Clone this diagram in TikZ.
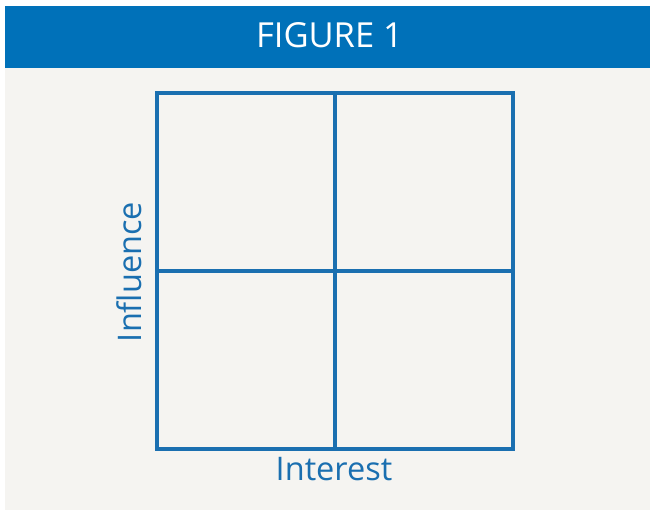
\documentclass[tikz,border=0pt]{standalone}
\usepackage{fontspec}
\setmainfont{Open Sans}
\usepackage{xcolor}
\definecolor{headblue}{RGB}{0,113,185}
\definecolor{gridblue}{RGB}{26,111,176}
\definecolor{paper}{RGB}{245,244,241}
\begin{document}
\begin{tikzpicture}[
    x=1pt, y=-1pt,
    gridline/.style={draw=gridblue, line width=3.6pt},
    axislabel/.style={font=\fontsize{32.5}{34}\selectfont, text=gridblue, inner sep=0pt},
  ]
  \useasboundingbox (0,0) rectangle (653,510);
  % ---- backgrounds ----
  \fill[white] (0,0) rectangle (653,510);
  \fill[paper] (5,68) rectangle (650,510);
  \fill[headblue] (5,6) rectangle (650,68);
  \node[font=\fontsize{34.5}{36}\selectfont, text=white, inner sep=0pt] (title) at (329.5,35) {FIGURE 1};
  % ---- grid ----
  \coordinate (nw) at (157,93);
  \coordinate (se) at (513,449);
  \draw[gridline] (nw) rectangle (se);
  \draw[gridline] (335,93) -- (335,449);
  \draw[gridline] (157,271) -- (513,271);
  % ---- axis labels ----
  \node[axislabel] (interest) at (334,469) {Interest};
  \node[axislabel, rotate=90] (influence) at (129,272) {Influence};
\end{tikzpicture}
\end{document}
